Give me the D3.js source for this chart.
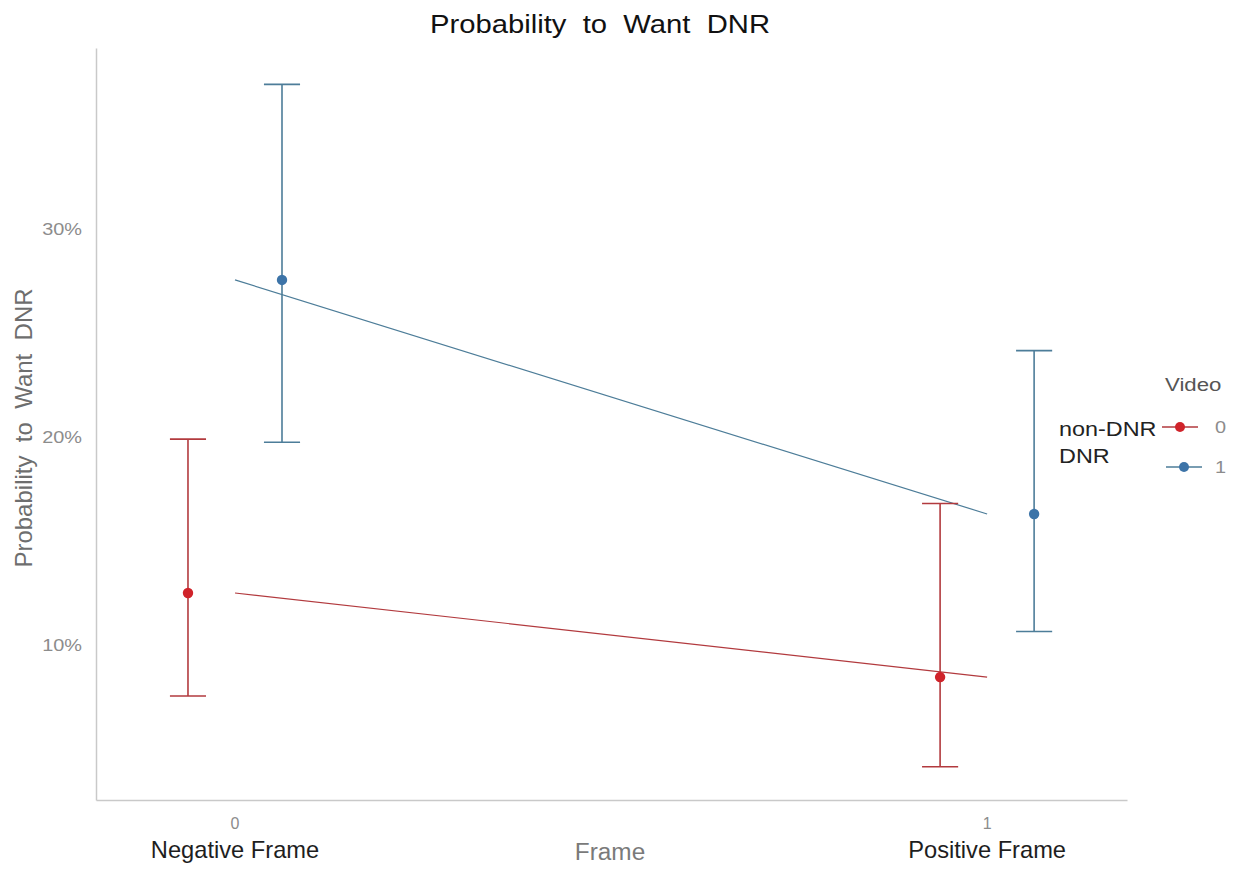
<!DOCTYPE html>
<html>
<head>
<meta charset="utf-8">
<script src="https://cdn.jsdelivr.net/npm/d3@7"></script>
<style>
  html, body { margin: 0; padding: 0; background: #ffffff; }
  svg { display: block; font-family: "Liberation Sans", Arial, sans-serif; }
</style>
</head>
<body>
<svg id="chart" width="1238" height="869"></svg>
<script>
// Frame levels on the x axis
const frameValues = [0, 1];
const frameTickLabels = ["0", "1"];
const frameNames = ["Negative Frame", "Positive Frame"];

// Video groups
const videoLevels = ["0", "1"];
const videoNames = ["non-DNR", "DNR"];

// Predicted probabilities with confidence limits, one array per video group
const probVideo0 = [0.125, 0.0846];
const lowerVideo0 = [0.0755, 0.0415];
const upperVideo0 = [0.199, 0.168];

const probVideo1 = [0.2755, 0.163];
const lowerVideo1 = [0.1975, 0.1065];
const upperVideo1 = [0.3695, 0.2415];

// Y axis ticks
const yTicks = [0.1, 0.2, 0.3];

const groups = [
  { level: videoLevels[0], name: videoNames[0], prob: probVideo0, lower: lowerVideo0, upper: upperVideo0,
    point: "#d0232a", line: "#b23a3e", dodge: -0.0625 },
  { level: videoLevels[1], name: videoNames[1], prob: probVideo1, lower: lowerVideo1, upper: upperVideo1,
    point: "#3d74a8", line: "#4d7d99", dodge: 0.0625 }
];

const SX = 1.17; // horizontal glyph stretch used for the text
const svg = d3.select("#chart");

const x = d3.scaleLinear().domain([-0.1848, 1.186]).range([96, 1127]);
const y = d3.scaleLinear().domain([0.0255, 0.387]).range([800, 48]);

function label(sel, px, py, str, o) {
  o = o || {};
  return sel.append("text")
    .attr("transform", `translate(${px},${py}) scale(${o.sx == null ? SX : o.sx},1)` + (o.rot ? ` rotate(${o.rot})` : ""))
    .attr("text-anchor", o.anchor || "start")
    .attr("font-size", o.size || 16)
    .attr("fill", o.fill || "#222")
    .attr("xml:space", "preserve")
    .style("white-space", "pre")
    .text(str);
}

// Axis lines
const axisY = d3.axisLeft(y).tickValues(yTicks).tickSize(0).tickFormat("");
const gy = svg.append("g").attr("transform", `translate(${x.range()[0]},0)`).call(axisY);
gy.select(".domain").attr("stroke", "#c9c9c9").attr("stroke-width", 1.5);

const axisX = d3.axisBottom(x).tickValues(frameValues).tickSize(0).tickFormat("");
const gx = svg.append("g").attr("transform", `translate(0,${y.range()[0]})`).call(axisX);
gx.select(".domain").attr("stroke", "#c9c9c9").attr("stroke-width", 1.5);

// Y tick labels
yTicks.forEach(t => {
  label(svg, 82, y(t) + 6, d3.format(".0%")(t), { anchor: "end", size: 17, fill: "#8c8c8c" });
});

// X tick labels: numeric level plus frame name
frameValues.forEach((v, i) => {
  label(svg, x(v), 829, frameTickLabels[i], { anchor: "middle", size: 16, fill: "#8c8c8c", sx: 1 });
  label(svg, x(v), 858, frameNames[i], { anchor: "middle", size: 23, fill: "#1e1e1e", sx: 1.03 });
});

// Axis titles and chart title
label(svg, 610, 860, "Frame", { anchor: "middle", size: 23, fill: "#7a7a7a", sx: 1.06 });
label(svg, 32, 428, "Probability  to  Want  DNR", { anchor: "middle", size: 24, fill: "#6e6e6e", rot: -90, sx: 1 });
label(svg, 600, 33, "Probability  to  Want  DNR", { anchor: "middle", size: 25, fill: "#111" });

// Trend lines between the frame levels
const trend = d3.line().x(d => x(d.f)).y(d => y(d.p));
groups.forEach(g => {
  svg.append("path")
    .datum(frameValues.map((f, i) => ({ f, p: g.prob[i] })))
    .attr("d", trend)
    .attr("fill", "none")
    .attr("stroke", g.line)
    .attr("stroke-width", 1.2);
});

// Error bars and points, dodged by group
const capHalf = 0.024;
groups.forEach(g => {
  const gg = svg.append("g");
  frameValues.forEach((f, i) => {
    const cx = f + g.dodge;
    gg.append("line")
      .attr("x1", x(cx)).attr("x2", x(cx))
      .attr("y1", y(g.lower[i])).attr("y2", y(g.upper[i]))
      .attr("stroke", g.line).attr("stroke-width", 1.6);
    [g.lower[i], g.upper[i]].forEach(v => {
      gg.append("line")
        .attr("x1", x(cx - capHalf)).attr("x2", x(cx + capHalf))
        .attr("y1", y(v)).attr("y2", y(v))
        .attr("stroke", g.line).attr("stroke-width", 1.6);
    });
    gg.append("circle")
      .attr("cx", x(cx)).attr("cy", y(g.prob[i]))
      .attr("r", 5.2).attr("fill", g.point);
  });
});

// Legend
label(svg, 1165, 391, "Video", { size: 19, fill: "#555" });
const keyY = [427, 467];
const keyX = [1180, 1184];
groups.forEach((g, i) => {
  svg.append("line")
    .attr("x1", keyX[i] - 18).attr("x2", keyX[i] + 18)
    .attr("y1", keyY[i]).attr("y2", keyY[i])
    .attr("stroke", g.line).attr("stroke-width", 1.6);
  svg.append("circle").attr("cx", keyX[i]).attr("cy", keyY[i]).attr("r", 5).attr("fill", g.point);
  label(svg, 1215, keyY[i] + 6, g.level, { size: 17, fill: "#8c8c8c" });
});
label(svg, 1059, 436, videoNames[0], { size: 20, fill: "#222" });
label(svg, 1059, 463, videoNames[1], { size: 20, fill: "#222" });
</script>
</body>
</html>
